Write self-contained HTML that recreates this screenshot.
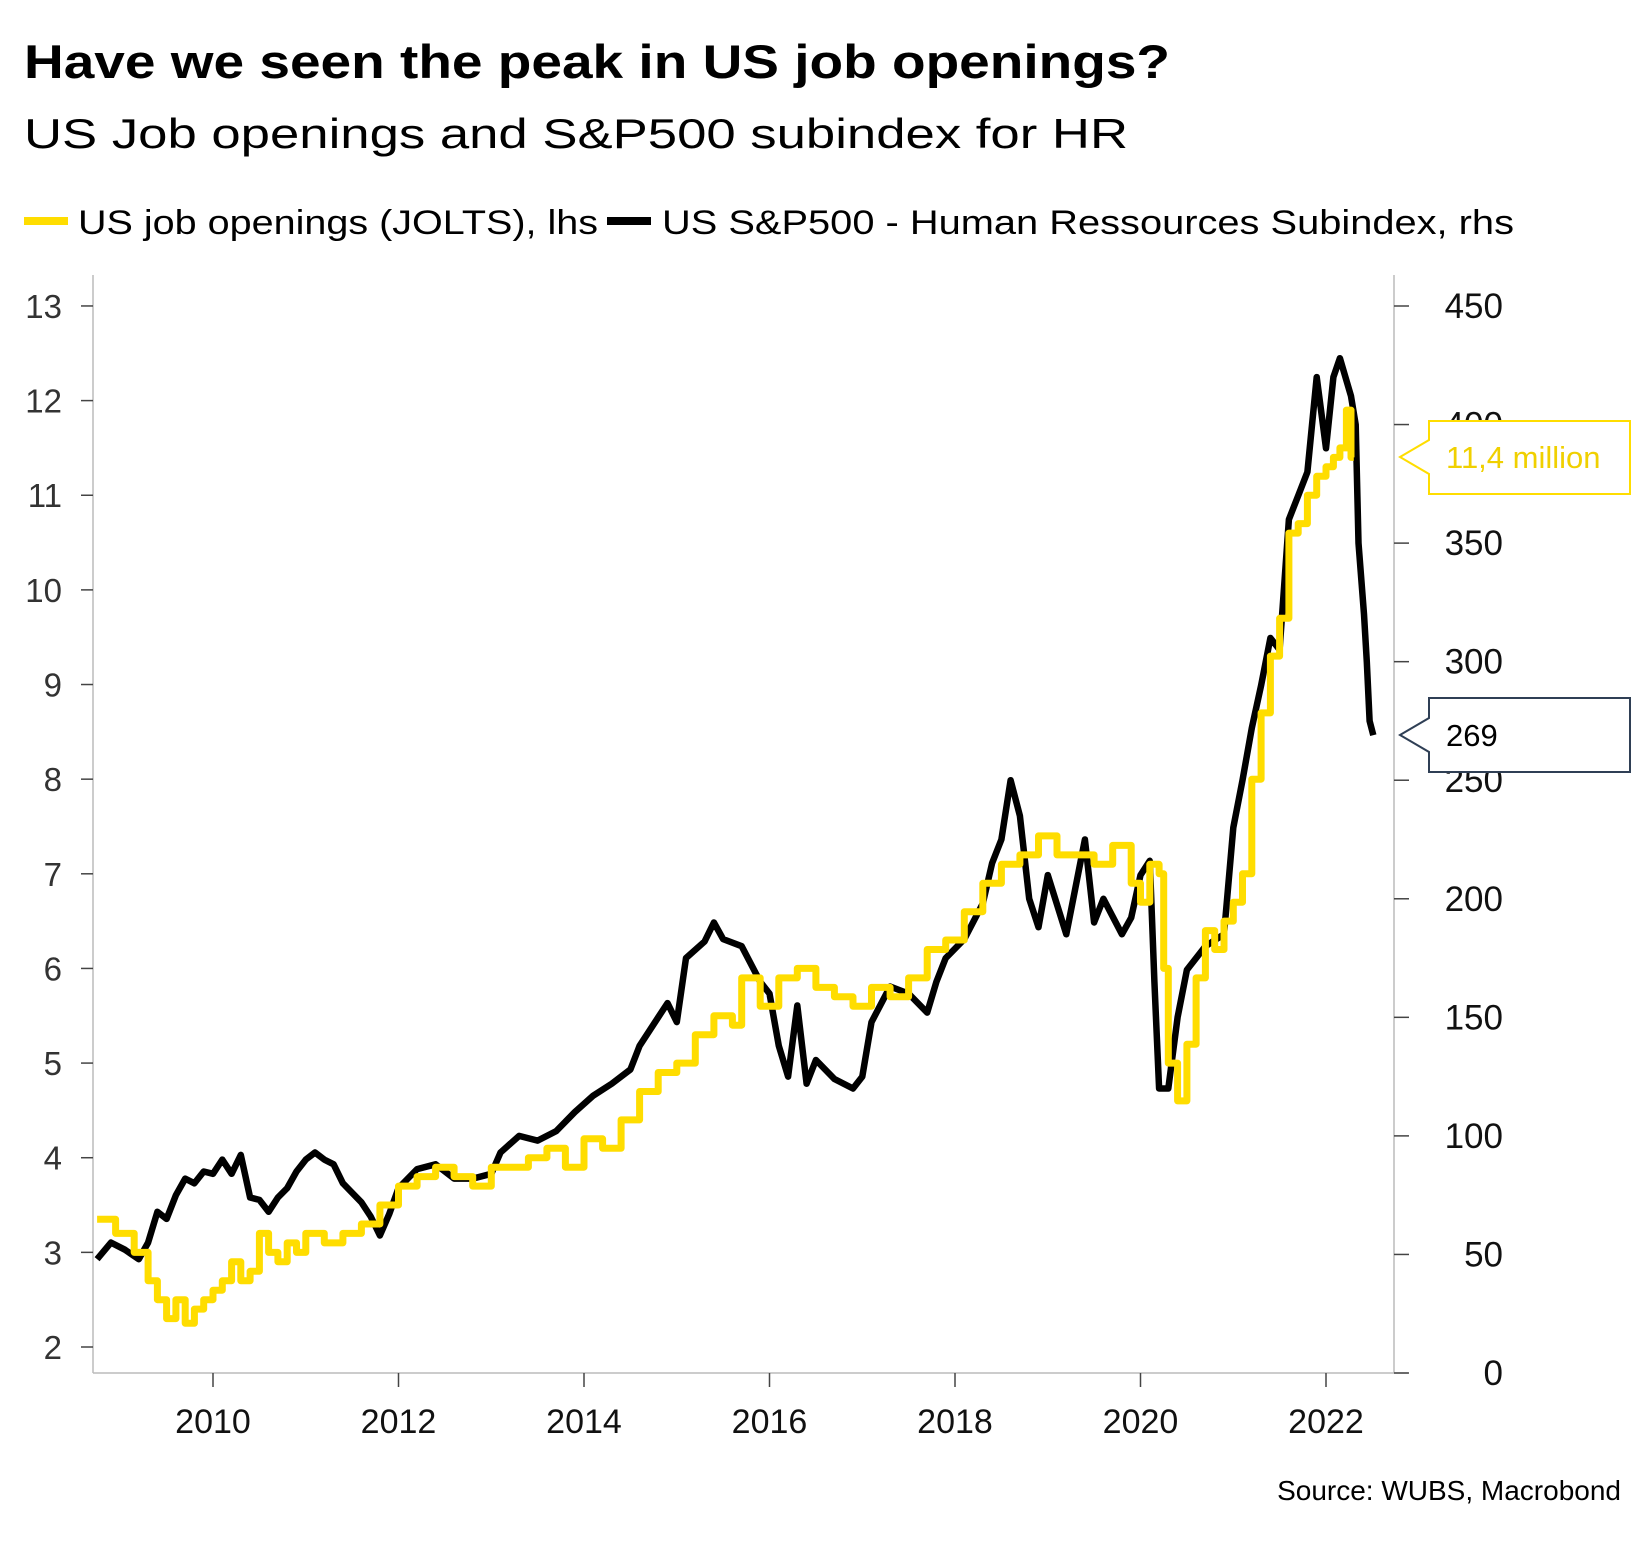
<!DOCTYPE html>
<html><head><meta charset="utf-8">
<style>
body{margin:0;background:#fff;font-family:"Liberation Sans",sans-serif}
svg text{font-family:"Liberation Sans",sans-serif}
</style></head>
<body>
<svg id="chart" width="1645" height="1536" viewBox="0 0 1645 1536" xmlns="http://www.w3.org/2000/svg">
<text x="24" y="78" font-size="47" font-weight="bold" textLength="1146" lengthAdjust="spacingAndGlyphs">Have we seen the peak in US job openings?</text>
<text x="24" y="148" font-size="42" textLength="1104" lengthAdjust="spacingAndGlyphs">US Job openings and S&amp;P500 subindex for HR</text>
<g>
<rect x="24" y="217" width="44" height="8" fill="#ffdd00"/>
<text x="78" y="234" font-size="34" textLength="520" lengthAdjust="spacingAndGlyphs">US job openings (JOLTS), lhs</text>
<rect x="607" y="217" width="44" height="8" fill="#000"/>
<text x="662" y="234" font-size="34" textLength="852" lengthAdjust="spacingAndGlyphs">US S&amp;P500 - Human Ressources Subindex, rhs</text>
</g>
<g id="axes"></g>
<g id="series"></g>
<g>
<path d="M1400 457 L1429 440 L1429 421 L1630 421 L1630 494 L1429 494 L1429 474 Z" fill="#fff" stroke="#ffdd00" stroke-width="2"/>
<text x="1446" y="468" font-size="31" fill="#f0d000">11,4 million</text>
</g>
<g>
<path d="M1400 735 L1429 718 L1429 698 L1630 698 L1630 772 L1429 772 L1429 752 Z" fill="#fff" stroke="#2f3f55" stroke-width="2"/>
<text x="1446" y="746" font-size="31" fill="#000">269</text>
</g>
<text x="1621" y="1500" font-size="28" text-anchor="end">Source: WUBS, Macrobond</text>
</svg>
<script>
const leftTicks=[2,3,4,5,6,7,8,9,10,11,12,13];
const rightTicks=[0,50,100,150,200,250,300,350,400,450];
const xTicks=[2010,2012,2014,2016,2018,2020,2022];
const joltsT=[2008.75,2008.95,2009.15,2009.3,2009.4,2009.5,2009.6,2009.7,2009.8,2009.9,2010.0,2010.1,2010.2,2010.3,2010.4,2010.5,2010.6,2010.7,2010.8,2010.9,2011.0,2011.2,2011.4,2011.6,2011.8,2012.0,2012.2,2012.4,2012.6,2012.8,2013.0,2013.2,2013.4,2013.6,2013.8,2014.0,2014.2,2014.4,2014.6,2014.8,2015.0,2015.2,2015.4,2015.6,2015.7,2015.9,2016.1,2016.3,2016.5,2016.7,2016.9,2017.1,2017.3,2017.5,2017.7,2017.9,2018.1,2018.3,2018.5,2018.7,2018.9,2019.1,2019.3,2019.5,2019.7,2019.9,2020.0,2020.1,2020.2,2020.25,2020.3,2020.4,2020.5,2020.6,2020.7,2020.8,2020.9,2021.0,2021.1,2021.2,2021.3,2021.4,2021.5,2021.6,2021.7,2021.8,2021.9,2022.0,2022.08,2022.15,2022.22,2022.27];
const joltsV=[3.35,3.2,3.0,2.7,2.5,2.3,2.5,2.25,2.4,2.5,2.6,2.7,2.9,2.7,2.8,3.2,3.0,2.9,3.1,3.0,3.2,3.1,3.2,3.3,3.5,3.7,3.8,3.9,3.8,3.7,3.9,3.9,4.0,4.1,3.9,4.2,4.1,4.4,4.7,4.9,5.0,5.3,5.5,5.4,5.9,5.6,5.9,6.0,5.8,5.7,5.6,5.8,5.7,5.9,6.2,6.3,6.6,6.9,7.1,7.2,7.4,7.2,7.2,7.1,7.3,6.9,6.7,7.1,7.0,6.0,5.0,4.6,5.2,5.9,6.4,6.2,6.5,6.7,7.0,8.0,8.7,9.3,9.7,10.6,10.7,11.0,11.2,11.3,11.4,11.5,11.9,11.4];
const hrT=[2008.75,2008.9,2009.05,2009.2,2009.3,2009.4,2009.5,2009.6,2009.7,2009.8,2009.9,2010.0,2010.1,2010.2,2010.3,2010.4,2010.5,2010.6,2010.7,2010.8,2010.9,2011.0,2011.1,2011.2,2011.3,2011.4,2011.5,2011.6,2011.7,2011.8,2011.9,2012.0,2012.2,2012.4,2012.6,2012.8,2013.0,2013.1,2013.3,2013.5,2013.7,2013.9,2014.1,2014.3,2014.5,2014.6,2014.8,2014.9,2015.0,2015.1,2015.3,2015.4,2015.5,2015.7,2015.9,2016.0,2016.1,2016.2,2016.3,2016.4,2016.5,2016.7,2016.9,2017.0,2017.1,2017.3,2017.5,2017.7,2017.8,2017.9,2018.1,2018.3,2018.4,2018.5,2018.6,2018.7,2018.8,2018.9,2019.0,2019.2,2019.4,2019.5,2019.6,2019.8,2019.9,2020.0,2020.1,2020.15,2020.2,2020.3,2020.4,2020.5,2020.7,2020.9,2021.0,2021.1,2021.2,2021.3,2021.4,2021.5,2021.6,2021.7,2021.8,2021.9,2022.0,2022.08,2022.15,2022.27,2022.32,2022.35,2022.41,2022.44,2022.47,2022.51];
const hrV=[48,55,52,48,55,68,65,75,82,80,85,84,90,84,92,74,73,68,74,78,85,90,93,90,88,80,76,72,66,58,67,78,86,88,82,82,84,93,100,98,102,110,117,122,128,138,150,156,148,175,182,190,183,180,165,160,138,125,155,122,132,124,120,125,148,163,160,152,165,175,183,198,215,225,250,235,200,188,210,185,225,190,200,185,192,210,216,165,120,120,150,170,180,185,230,250,272,290,310,305,360,370,380,420,390,420,428,412,400,350,320,300,275,269];

const X0=93,X1=1394,YB=1373;
const xs=t=>213+(t-2010)*92.75;
const yl=v=>1347-(v-2)*94.64;
const yr=v=>1373-v*1067/450;
const NS='http://www.w3.org/2000/svg';
function mk(tag,attrs,parent){const e=document.createElementNS(NS,tag);for(const k in attrs)e.setAttribute(k,attrs[k]);parent.appendChild(e);return e;}
const ax=document.getElementById('axes');
let a=mk('line',{x1:X0,y1:275,x2:X0,y2:YB,stroke:'#bbb','stroke-width':1.5},ax);


a=mk('line',{x1:X1,y1:275,x2:X1,y2:YB,stroke:'#bbb','stroke-width':1.5},ax);


a=mk('line',{x1:X0,y1:YB,x2:X1+14,y2:YB,stroke:'#bbb','stroke-width':1.5},ax);


leftTicks.forEach(v=>{
 mk('line',{x1:X0-12,y1:yl(v),x2:X0,y2:yl(v),stroke:'#444','stroke-width':1.5},ax);
 const t=mk('text',{x:62,y:yl(v)+12,'font-size':33,'text-anchor':'end',fill:'#333'},ax);
 t.textContent=v;
 
 
});
rightTicks.forEach(v=>{
 mk('line',{x1:X1,y1:yr(v),x2:X1+15,y2:yr(v),stroke:'#444','stroke-width':1.5},ax);
 const t=mk('text',{x:1503,y:yr(v)+12,'font-size':35,'text-anchor':'end',fill:'#111'},ax);
 t.textContent=v;
 
 
});
xTicks.forEach(v=>{
 mk('line',{x1:xs(v),y1:YB,x2:xs(v),y2:YB+14,stroke:'#444','stroke-width':1.5},ax);
 const t=mk('text',{x:xs(v),y:1433,'font-size':34,'text-anchor':'middle',fill:'#111'},ax);
 t.textContent=v;
 
 
});
const sg=document.getElementById('series');
let d='';hrT.forEach((t,i)=>{d+=(i?'L':'M')+xs(t).toFixed(1)+' '+yr(hrV[i]).toFixed(1);});
const hr=mk('path',{d:d,fill:'none',stroke:'#000','stroke-width':6.5,'stroke-linejoin':'round'},sg);


d='';joltsT.forEach((t,i)=>{const x=xs(t).toFixed(1),y=yl(joltsV[i]).toFixed(1);d+=i?('H'+x+'V'+y):('M'+x+' '+y);});
d+='H'+xs(2022.3).toFixed(1);
const jo=mk('path',{d:d,fill:'none',stroke:'#ffdd00','stroke-width':7,'stroke-linejoin':'round'},sg);


</script>
</body></html>
